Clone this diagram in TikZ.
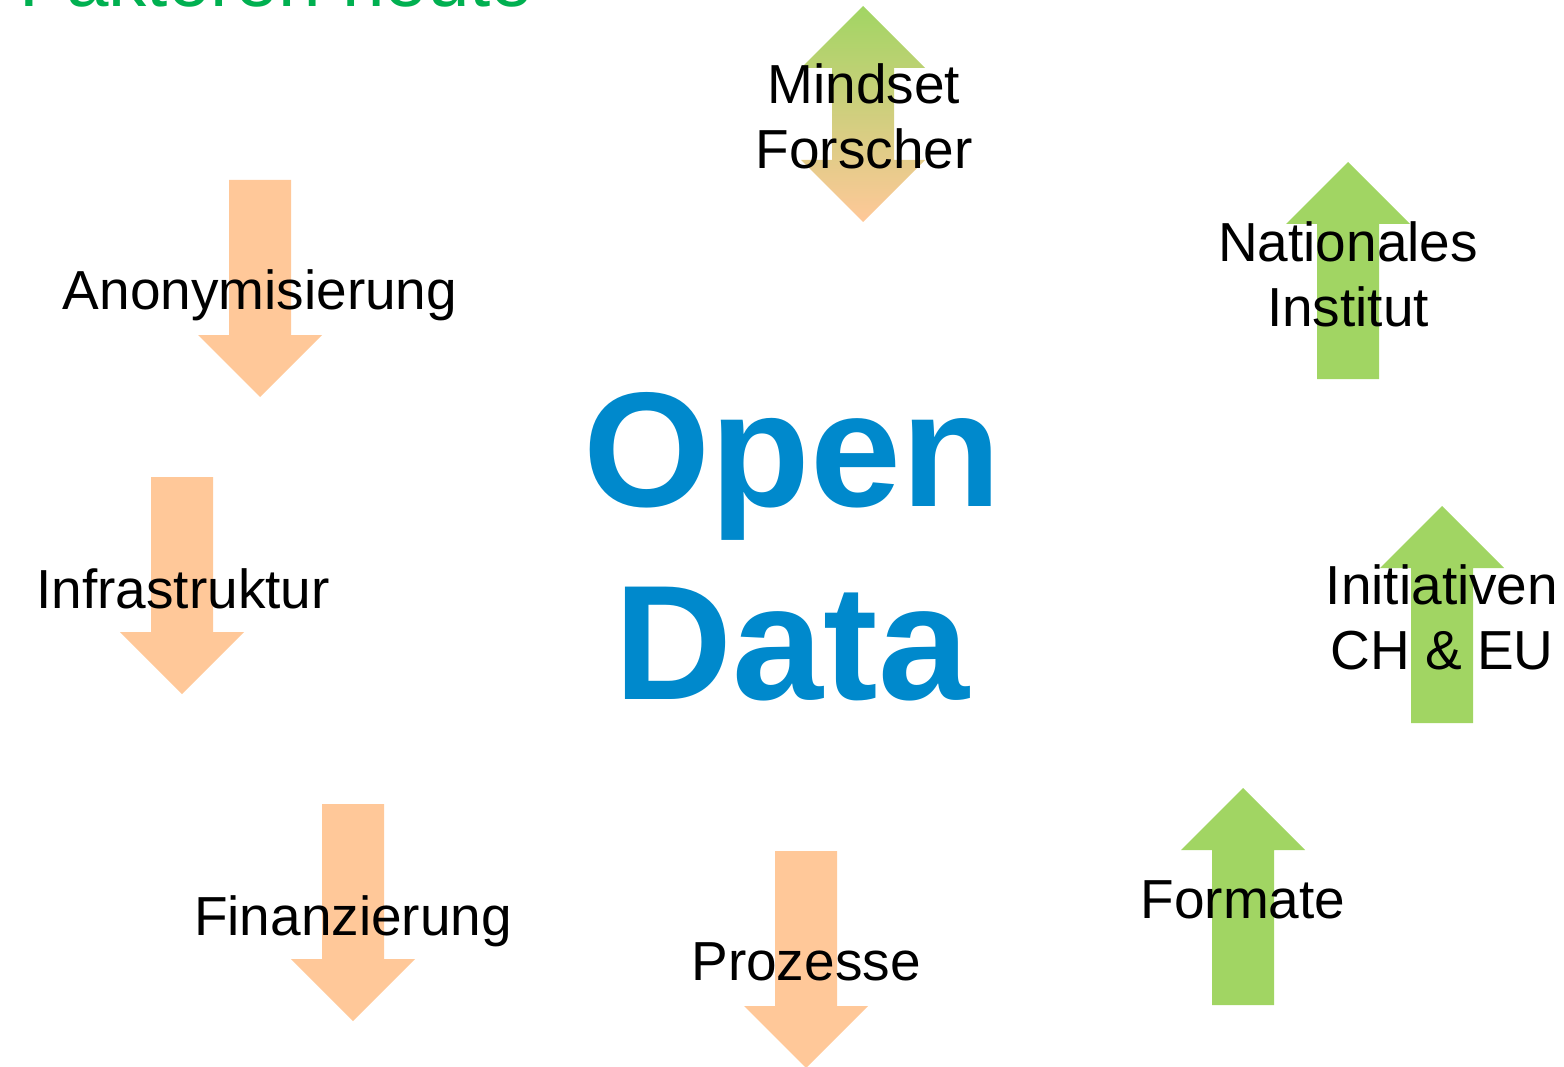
\documentclass[tikz,border=0pt]{standalone}
\usepackage{fontspec}
\setmainfont{Liberation Sans}
\definecolor{peach}{RGB}{255,200,153}
\definecolor{leaf}{RGB}{161,213,99}
\definecolor{opendata}{RGB}{0,137,204}
\definecolor{titlegreen}{RGB}{0,176,80}

\begin{document}
\begin{tikzpicture}[x=0.02cm,y=-0.02cm,
    factor/.style={font=\fontsize{31.3}{37}\selectfont,inner sep=0,align=center}]
    \useasboundingbox (0,0) rectangle (1564,1067);
    \clip (0,0) rectangle (1564,1067);
    % arrows down (x = middle, y = top)
    \foreach \x/\y in {260/180,182/477,353/804,806/851}
      \fill[peach] (\x-31,\y) -- (\x+31,\y) -- (\x+31,\y+155) -- (\x+62,\y+155) -- (\x,\y+217)
        -- (\x-62,\y+155) -- (\x-31,\y+155) -- cycle;
    % arrows up (x = middle, y = bottom)
    \foreach \x/\y in {1243/1005,1348/379,1442/723}
      \fill[leaf] (\x-31,\y) -- (\x+31,\y) -- (\x+31,\y-155) -- (\x+62,\y-155) -- (\x,\y-217)
        -- (\x-62,\y-155) -- (\x-31,\y-155) -- cycle;
    % both ways
    \shade[top color=leaf,bottom color=peach] (863,6) -- (925,68) -- (894,68) -- (894,160)
      -- (925,160) -- (863,222) -- (801,160) -- (832,160) -- (832,68) -- (801,68) -- cycle;
    \node[font=\fontsize{43.5}{50}\selectfont,text=titlegreen,anchor=base west,inner sep=0] (title) at (19,7) {Faktoren heute};
    \node[factor,anchor=base] (anon) at (260,310) {Anonymisierung};
    \node[factor,anchor=base] (infra) at (183,608) {Infrastruktur};
    \node[factor,anchor=base] (finanz) at (353,935) {Finanzierung};
    \node[factor,anchor=base] (proz) at (806,980) {Prozesse};
    \node[factor,anchor=base] (format) at (1243,918) {Formate};
    \node[factor] (inst) at (1348,274) {Nationales\\Institut};
    \node[factor] (init) at (1442,617) {Initiativen\\CH \& EU};
    \node[factor] (mind) at (864,116) {Mindset\\Forscher};
    \node[font=\fontsize{93}{110}\selectfont\bfseries,text=opendata,align=center,inner sep=0] (open) at (792,547) {Open\\Data};
\end{tikzpicture}
\end{document}
